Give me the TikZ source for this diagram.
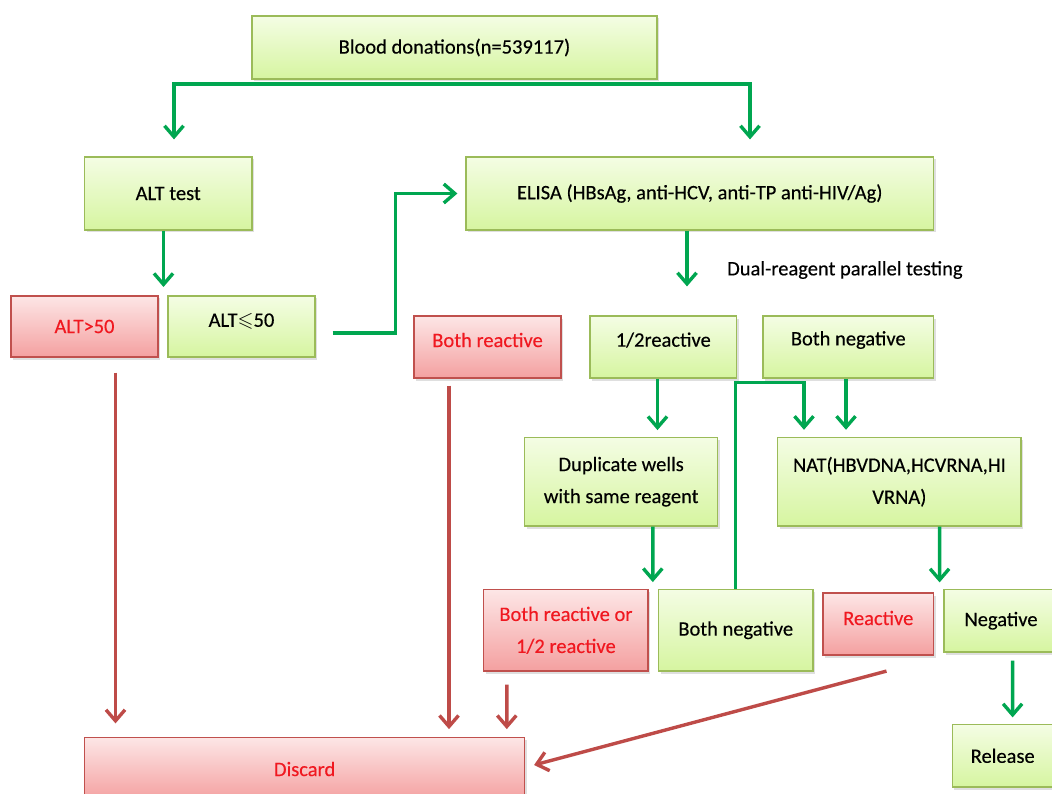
\documentclass[tikz,border=0pt]{standalone}
\usepackage{amssymb}
\usepackage{fontspec}
\setmainfont{Carlito}[FakeBold=0.3]
\usetikzlibrary{arrows.meta,shadows}
\definecolor{gline}{HTML}{00A650}
\definecolor{rline}{HTML}{BE4B48}
\definecolor{gtop}{HTML}{F4FDE4}
\definecolor{gbot}{HTML}{D6F5A0}
\definecolor{gbord}{HTML}{9BBB59}
\definecolor{rtop}{HTML}{FDE6E6}
\definecolor{rbot}{HTML}{F4A0A0}
\definecolor{rbord}{HTML}{C0504D}
\definecolor{rtext}{HTML}{F01820}
\newcommand\liftby[2]{\raisebox{#1pt}[\height][\depth]{#2}}
\begin{document}
\begin{tikzpicture}[x=1pt,y=-1pt,
  txt/.style={font=\fontsize{20.5}{32}\selectfont},
  box/.style={txt, draw, line width=1.2pt, inner sep=0pt, align=center,
    drop shadow={shadow xshift=2pt,shadow yshift=-2.5pt,opacity=0.25}},
  gbox/.style={box, draw=gbord, top color=gtop, bottom color=gbot, text=black},
  rbox/.style={box, draw=rbord, top color=rtop, bottom color=rbot, text=rtext},
  sz/.style 2 args={minimum width=#1pt, minimum height=#2pt},
  garrow/.style={draw=gline, line width=3.4pt, -{Straight Barb[length=11pt,width=19pt]}},
  rarrow/.style={draw=rline, line width=3.4pt, -{Straight Barb[length=11pt,width=19pt]}}
]
\useasboundingbox (0,0) rectangle (1052,794);
\fill[white] (0,0) rectangle (1052,794);

% nodes
\node[gbox, sz={405}{63}] (blood) at (454.5,47.5) {Blood donations(n=539117)};
\node[gbox, sz={167.5}{73}] (alt) at (168.25,193.5) {ALT test};
\node[gbox, sz={467.5}{73}] (elisa) at (699.75,193.5) {ELISA (HBsAg, anti-HCV, anti-TP anti-HIV/Ag)};
\node[rbox, sz={147}{61}] (altgt) at (84.5,326.5) {ALT>50};
\node[gbox, sz={147}{61}] (altle) at (241.5,326.5) {\liftby{5}{ALT$\leqslant$50}};
\node[rbox, sz={147}{62}] (bothr) at (487.5,347) {\liftby{7}{Both reactive}};
\node[gbox, sz={146.5}{62}] (half) at (663.25,347) {\liftby{7}{1/2reactive}};
\node[gbox, sz={170.5}{62}] (bothn) at (848.25,347) {\liftby{7}{Both negative}};
\node[gbox, sz={193}{88.6}] (dup) at (621.15,481.7) {Duplicate wells\\with same reagent};
\node[gbox, sz={243.2}{88.6}] (nat) at (899.4,481.7) {NAT(HBVDNA,HCVRNA,HI\\VRNA)};
\node[rbox, sz={164.2}{81.5}] (borr) at (565.9,630.25) {Both reactive or\\1/2 reactive};
\node[gbox, sz={154.5}{81.5}] (bothn2) at (735.75,630.25) {Both negative};
\node[rbox, sz={110.5}{62}] (react) at (878.25,624) {\liftby{6}{Reactive}};
\node[gbox, sz={114}{62.5}] (neg) at (1001,620.75) {Negative};
\node[gbox, sz={100.6}{62.4}] (release) at (1002.7,755.8) {Release};
\node[rbox, sz={440.2}{63.2}] (discard) at (304.6,769) {Discard};
\node[txt, anchor=west, inner sep=0pt] (dual) at (727,270) {Dual-reagent parallel testing};

% free ends
\coordinate (split) at (454.5,84);
\coordinate (altsplit) at (163.5,287);
\coordinate (looptop) at (770,382.7);

% green connectors
\draw[garrow, shorten >=17pt] (split) -| ([xshift=5.75pt]alt.north);
\draw[garrow, shorten >=17pt] (split) -| ([xshift=50.25pt]elisa.north);
\draw[garrow] ([xshift=-4.75pt]alt.south) -- (altsplit);
\draw[garrow] ([xshift=17pt,yshift=-6.5pt]altle.east) -- ++(63,0) |- ([xshift=-8pt]elisa.west);
\draw[garrow, shorten >=29pt] ([xshift=-12.75pt]elisa.south) -- ([xshift=23.75pt]half.north);
\draw[garrow, shorten >=6.7pt] ([xshift=-5.75pt]half.south) -- ([xshift=36.35pt]dup.north);
\draw[garrow, shorten >=7pt] ([xshift=-2.25pt]bothn.south) -- ([xshift=-53.4pt]nat.north);
\draw[garrow, shorten >=7pt] (bothn2.north) |- (looptop) -| ([xshift=-95.4pt]nat.north);
\draw[garrow, shorten >=6.8pt] ([xshift=31.65pt]dup.south) -- ([xshift=-82.95pt]bothn2.north);
\draw[garrow, shorten >=6.5pt] ([xshift=40.2pt]nat.south) -- ([xshift=-61.4pt]neg.north);
\draw[garrow, shorten <=8pt, shorten >=6.6pt] ([xshift=11.6pt]neg.south) -- ([xshift=9.9pt]release.north);

% red connectors
\draw[rarrow, shorten <=15pt, shorten >=13.4pt] ([xshift=31pt]altgt.south) -- ([xshift=-189.1pt]discard.north);
\draw[rarrow, shorten <=7pt, shorten >=7.7pt] ([xshift=-38.5pt]bothr.south) -- ([xshift=144.4pt]discard.north);
\draw[rarrow, shorten <=13pt, shorten >=7.7pt] ([xshift=-59.1pt]borr.south) -- ([xshift=202.2pt]discard.north);
\draw[rarrow] ([xshift=8.25pt,yshift=-15.5pt]react.south) -- ([xshift=8.8pt,yshift=4pt]discard.east);
\end{tikzpicture}
\end{document}
